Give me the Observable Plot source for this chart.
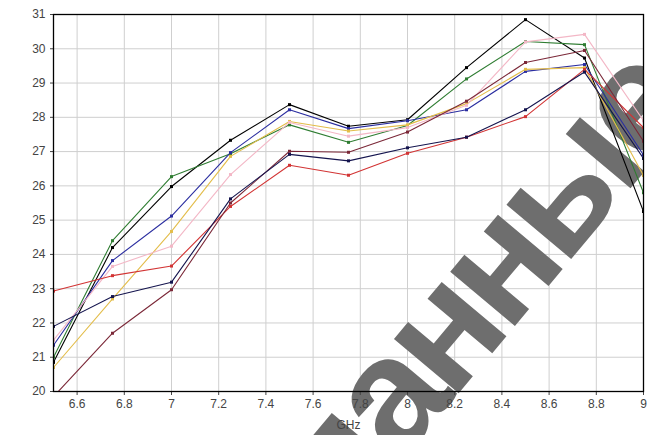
<!DOCTYPE html>
<html>
<head>
<meta charset="utf-8">
<script src="https://cdn.jsdelivr.net/npm/d3@7"></script>
<script src="https://cdn.jsdelivr.net/npm/@observablehq/plot@0.6"></script>
<style>
  html, body { margin: 0; padding: 0; background: #fff; }
</style>
</head>
<body>
<div id="chart"></div>
<script>
const freqs = [6.5, 6.75, 7, 7.25, 7.5, 7.75, 8, 8.25, 8.5, 8.75, 9];
const seriesNames = ["s1", "s2", "s3", "s4", "s5", "s6", "s7", "s8"];
const seriesColors = ["#000000", "#2f7d32", "#2b2ea0", "#e3bd4a", "#f3b7c6", "#d23434", "#7b2838", "#14144e"];
const s1Vals = [20.85, 24.2, 25.98, 27.33, 28.37, 27.74, 27.93, 29.45, 30.85, 29.73, 25.25];
const s2Vals = [21.0, 24.4, 26.27, 26.94, 27.78, 27.27, 27.76, 29.12, 30.21, 30.12, 25.8];
const s3Vals = [21.35, 23.82, 25.12, 26.97, 28.22, 27.67, 27.9, 28.22, 29.34, 29.54, 26.9];
const s4Vals = [20.7, 22.7, 24.67, 26.86, 27.88, 27.6, 27.78, 28.4, 29.4, 29.45, 26.3];
const s5Vals = [21.5, 23.65, 24.24, 26.33, 27.85, 27.45, 27.7, 28.35, 30.2, 30.42, 27.9];
const s6Vals = [22.93, 23.38, 23.66, 25.4, 26.6, 26.31, 26.95, 27.42, 28.02, 29.4, 27.7];
const s7Vals = [19.85, 21.7, 22.97, 25.5, 27.01, 26.98, 27.57, 28.47, 29.6, 29.95, 27.3];
const s8Vals = [21.9, 22.77, 23.19, 25.62, 26.92, 26.73, 27.11, 27.42, 28.22, 29.32, 26.8];
const xTicks = [6.6, 6.8, 7, 7.2, 7.4, 7.6, 7.8, 8, 8.2, 8.4, 8.6, 8.8, 9];
const yTicks = [20, 21, 22, 23, 24, 25, 26, 27, 28, 29, 30, 31];
const watermarkText = "данные";

const allVals = [s1Vals, s2Vals, s3Vals, s4Vals, s5Vals, s6Vals, s7Vals, s8Vals];
const data = [];
seriesNames.forEach((s, i) => freqs.forEach((f, j) => data.push({s, x: f, y: allVals[i][j]})));

const NS = "http://www.w3.org/2000/svg";
// watermark layer (not data): drawn over the grid, under the lines, clipped at the right frame edge
function watermark(index, scales, values, dims) {
  const box = document.createElementNS(NS, "svg");
  box.setAttribute("x", 0);
  box.setAttribute("y", 0);
  box.setAttribute("width", dims.width - dims.marginRight + 0.5);
  box.setAttribute("height", dims.height);
  box.setAttribute("overflow", "hidden");
  const t = document.createElementNS(NS, "text");
  t.setAttribute("id", "wmtext");
  t.setAttribute("x", 0);
  t.setAttribute("y", 0);
  t.setAttribute("style", "font-family:'Liberation Sans',Arial,sans-serif;font-weight:bold;font-size:160px;letter-spacing:-9px;fill:#6e6e6e;");
  t.textContent = watermarkText;
  box.appendChild(t);
  return box;
}

const chart = Plot.plot({
  width: 656,
  height: 435,
  marginLeft: 53,
  marginRight: 13,
  marginTop: 14,
  marginBottom: 44,
  style: {fontFamily: "'Liberation Sans', Arial, sans-serif", fontSize: "12px", color: "#444", background: "#fff"},
  x: {domain: [6.5, 9]},
  y: {domain: [20, 31]},
  color: {domain: seriesNames, range: seriesColors},
  marks: [
    Plot.gridX(xTicks, {stroke: "#cfcfcf", strokeOpacity: 1}),
    Plot.gridY(yTicks, {stroke: "#cfcfcf", strokeOpacity: 1}),
    watermark,
    Plot.axisX(xTicks, {tickSize: 4, tickPadding: 4, tickFormat: d => String(+d.toFixed(1)), label: "GHz", labelAnchor: "center", labelArrow: "none", labelOffset: 37, fill: "#444"}),
    Plot.axisY(yTicks, {tickSize: 3, tickPadding: 5, label: null, fill: "#444"}),
    Plot.line(data, {x: "x", y: "y", z: "s", stroke: "s", strokeWidth: 1.1, clip: true}),
    Plot.dot(data, {x: "x", y: "y", fill: "s", symbol: "square", r: 1.7, clip: true}),
    Plot.frame({stroke: "#000", strokeWidth: 1.3})
  ]
});
document.getElementById("chart").appendChild(chart);

// place the watermark so that its 2nd letter starts where it sits in the reference
const wm = chart.querySelector("#wmtext");
if (wm) {
  let p = {x: 0, y: 0};
  try { p = wm.getStartPositionOfChar(1); } catch (e) {}
  wm.setAttribute("transform", `translate(400,463) rotate(-50) translate(${-p.x},${-p.y})`);
}
</script>
</body>
</html>
